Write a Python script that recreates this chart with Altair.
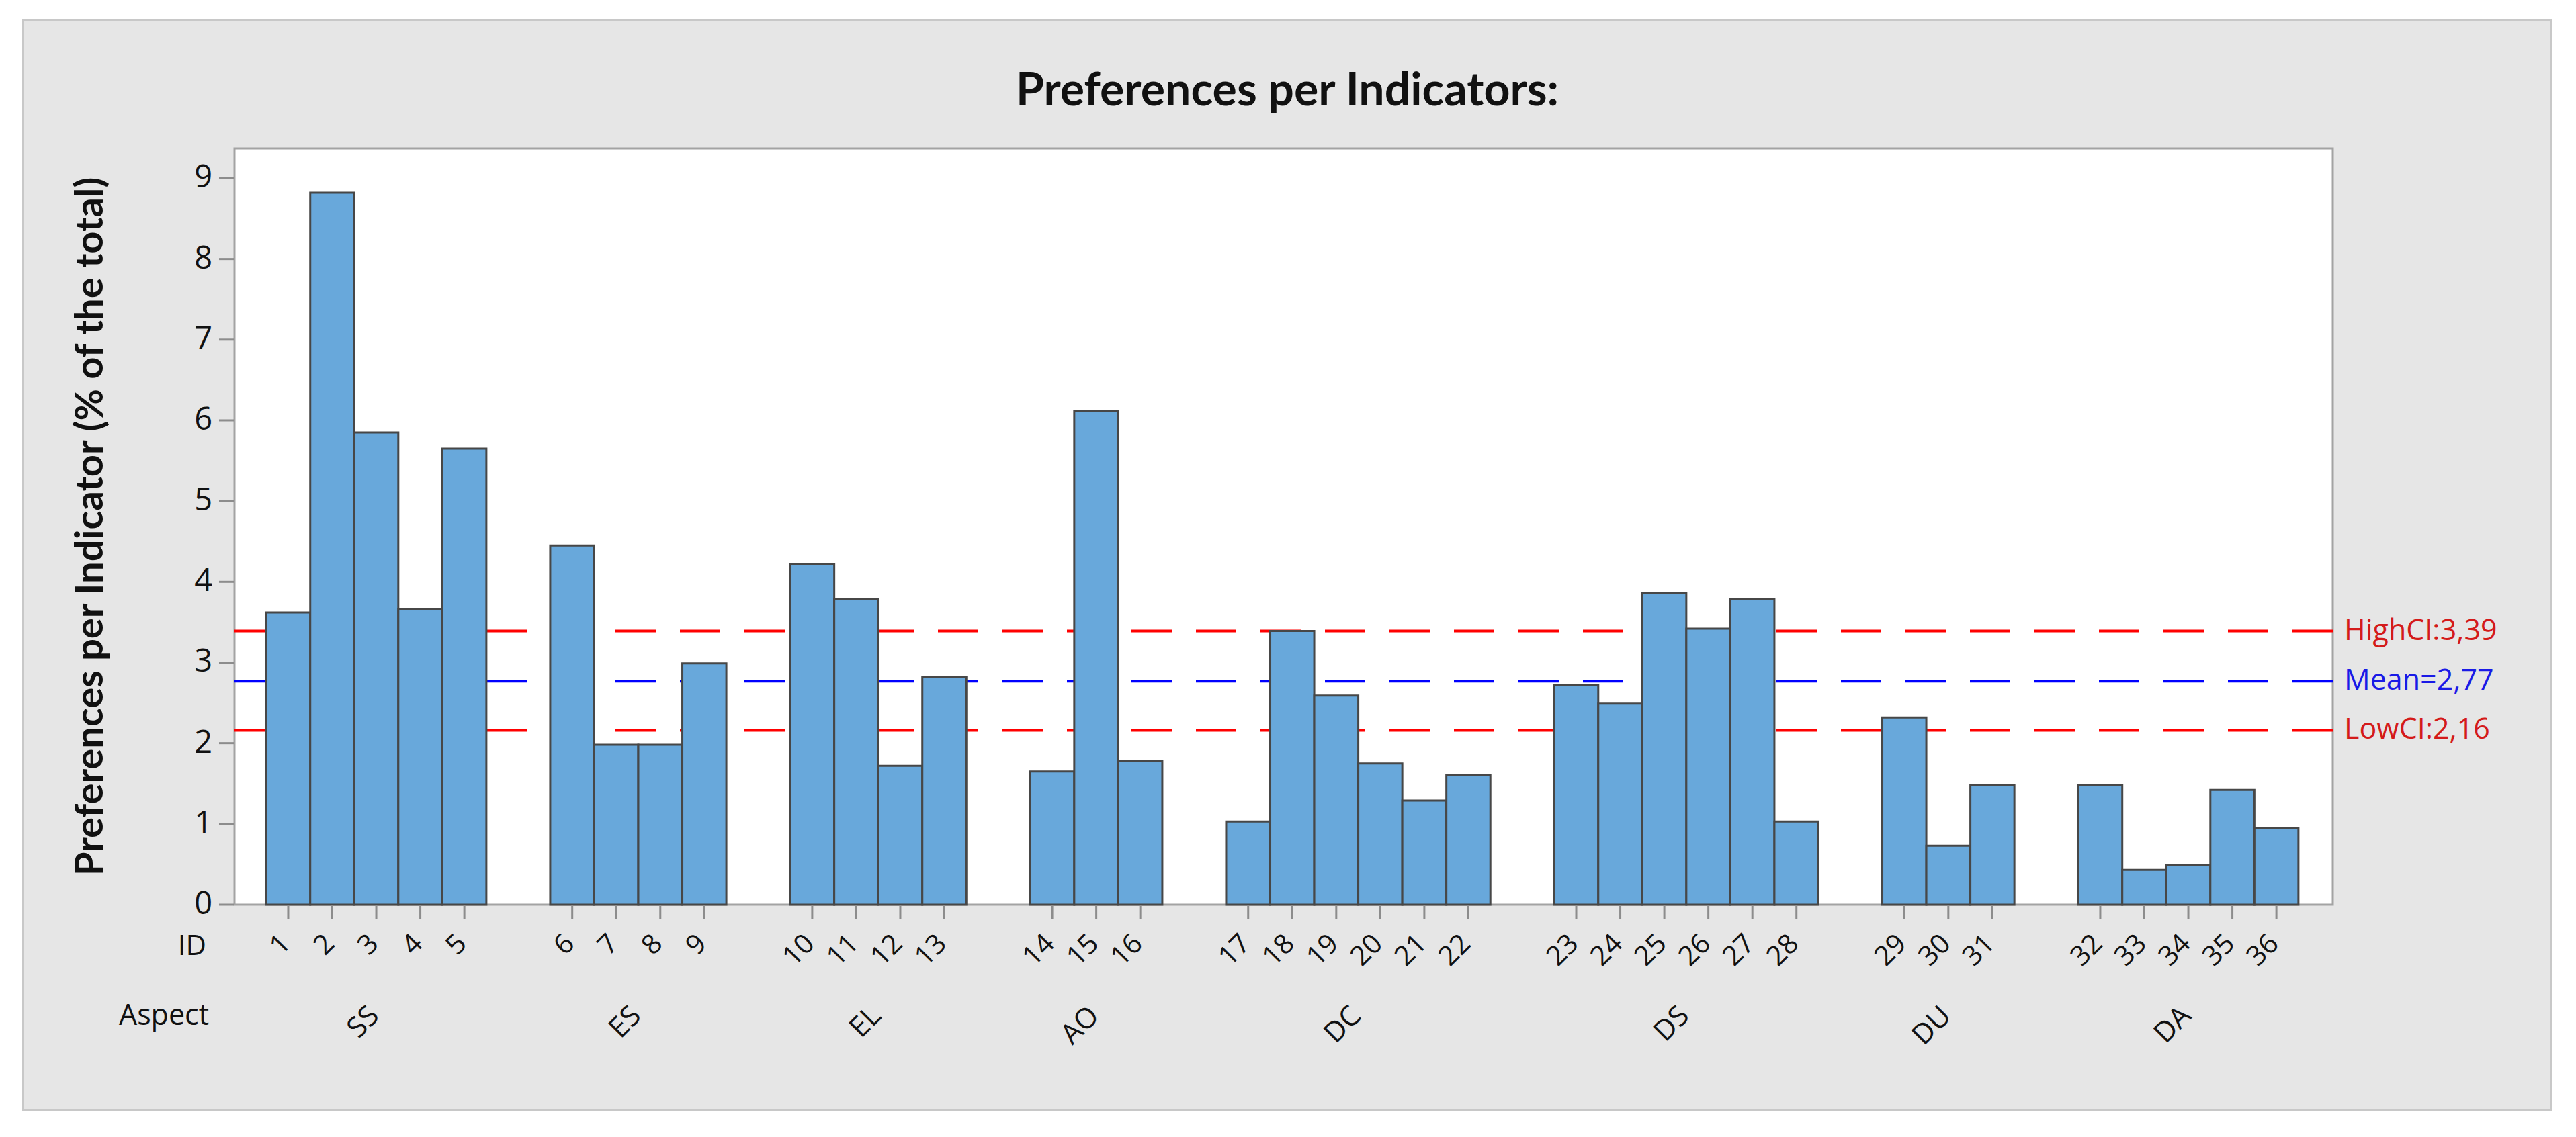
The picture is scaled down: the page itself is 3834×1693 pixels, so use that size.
import altair as alt
import pandas as pd

# ---------------- data ----------------
ids = list(range(1, 37))
values = [3.62, 8.82, 5.85, 3.66, 5.65,
          4.45, 1.98, 1.98, 2.99,
          4.22, 3.79, 1.72, 2.82,
          1.65, 6.12, 1.78,
          1.03, 3.39, 2.59, 1.75, 1.29, 1.61,
          2.72, 2.49, 3.86, 3.42, 3.79, 1.03,
          2.32, 0.73, 1.48,
          1.48, 0.43, 0.49, 1.42, 0.95]
aspects = ["SS", "ES", "EL", "AO", "DC", "DS", "DU", "DA"]
group_sizes = [5, 4, 4, 3, 6, 6, 3, 5]
y_ticks = [0, 1, 2, 3, 4, 5, 6, 7, 8, 9]
ref_values = [3.39, 2.77, 2.16]
ref_labels = ["HighCI:3,39", "Mean=2,77", "LowCI:2,16"]
ref_colors = ["#ff0000", "#0000ff", "#ff0000"]
ref_text_colors = ["#d41a1a", "#1a1ae6", "#d41a1a"]
title_text = "Preferences per Indicators:"
y_title = "Preferences per Indicator (% of the total)"

# ---------------- layout (pixels) ----------------
W, H = 3123, 1126
GAP = 1.45  # gap between aspect groups, in bar widths
XMIN = -0.72
XMAX = 36 + 7 * GAP + 0.78
YMAX = 9.37
TICK_COLOR = "#8c8c8c"
TXT = "#111111"

rows = []
k = 0
gcenters = []
for g, (asp, n) in enumerate(zip(aspects, group_sizes)):
    start = k + g * GAP
    for j in range(n):
        x0 = k + g * GAP
        rows.append({"id": str(ids[k]), "value": values[k], "aspect": asp,
                     "x0": x0, "x1": x0 + 1, "xc": x0 + 0.5})
        k += 1
    gcenters.append({"aspect": asp, "xc": (start + (k + g * GAP)) / 2})
bars_df = pd.DataFrame(rows)
groups_df = pd.DataFrame(gcenters)
ref_df = pd.DataFrame({"ref": ref_values, "label": ref_labels,
                       "col": ref_colors, "tcol": ref_text_colors})
yt_df = pd.DataFrame({"v": y_ticks, "lab": [str(v) for v in y_ticks]})
one = pd.DataFrame({"t": [title_text]})
ytitle_df = pd.DataFrame({"t": [y_title]})
hdr_df = pd.DataFrame({"t": ["ID"]})
asp_hdr_df = pd.DataFrame({"t": ["Aspect"]})

xs = alt.Scale(domain=[XMIN, XMAX], nice=False, zero=False)
ys = alt.Scale(domain=[0, YMAX], nice=False, zero=False)

# white outer margin (thick white stroke outside the gray box) and box border
margin = alt.Chart(one).mark_rect(fill="transparent", stroke="white", strokeWidth=80).encode(
    x=alt.value(-355), x2=alt.value(3488), y=alt.value(-231), y2=alt.value(1472))
box = alt.Chart(one).mark_rect(fill="transparent", stroke="#c8c8c8", strokeWidth=4).encode(
    x=alt.value(-315), x2=alt.value(3448), y=alt.value(-191), y2=alt.value(1432))

rules = alt.Chart(ref_df).mark_rule(strokeWidth=4, strokeDash=[60, 36]).encode(
    y=alt.Y("ref:Q", scale=ys, axis=None),
    color=alt.Color("col:N", scale=None))

bars = alt.Chart(bars_df).mark_rect(fill="#68a8db", stroke="#474747", strokeWidth=3).encode(
    x=alt.X("x0:Q", scale=xs, axis=None),
    x2="x1:Q",
    y=alt.Y("value:Q", scale=ys, axis=None),
    y2=alt.datum(0))

# y axis: ticks, labels, title
y_tick_marks = alt.Chart(yt_df).mark_rule(color=TICK_COLOR, strokeWidth=3).encode(
    x=alt.value(-23), x2=alt.value(0),
    y=alt.Y("v:Q", scale=ys, axis=None))
y_labels = alt.Chart(yt_df).mark_text(align="right", baseline="middle", font="Open Sans",
                                      fontSize=47, color=TXT).encode(
    x=alt.value(-33),
    y=alt.Y("v:Q", scale=ys, axis=None),
    text="lab:N")
y_title_mark = alt.Chart(ytitle_df).mark_text(angle=270, align="center", baseline="alphabetic",
                                              font="Lato", fontWeight="bold", fontSize=58,
                                              color=TXT).encode(
    x=alt.value(-196), y=alt.value(H / 2), text="t:N")

# x axis: ticks at bar centres, rotated ID labels, aspect labels
x_tick_marks = alt.Chart(bars_df).mark_rule(color=TICK_COLOR, strokeWidth=3).encode(
    x=alt.X("xc:Q", scale=xs, axis=None),
    y=alt.value(H), y2=alt.value(H + 22))

ref_text = alt.Chart(ref_df).mark_text(align="left", baseline="middle", font="Open Sans",
                                       fontSize=43).encode(
    x=alt.value(W + 17),
    y=alt.Y("ref:Q", scale=ys, axis=None),
    text="label:N",
    color=alt.Color("tcol:N", scale=None))

id_text = alt.Chart(bars_df).mark_text(angle=315, align="right", baseline="middle",
                                       font="Open Sans", fontSize=41, color=TXT,
                                       dx=-4).encode(
    x=alt.X("xc:Q", scale=xs, axis=None),
    y=alt.value(1175),
    text="id:N")

asp_text = alt.Chart(groups_df).mark_text(angle=315, align="right", baseline="middle",
                                          font="Open Sans", fontSize=42, color=TXT,
                                          dx=-4).encode(
    x=alt.X("xc:Q", scale=xs, axis=None),
    y=alt.value(1282),
    text="aspect:N")

id_hdr = alt.Chart(hdr_df).mark_text(align="right", baseline="middle", font="Open Sans",
                                     fontSize=42, color=TXT).encode(
    x=alt.value(-42), y=alt.value(1188), text="t:N")

asp_hdr = alt.Chart(asp_hdr_df).mark_text(align="right", baseline="alphabetic",
                                          font="Open Sans", fontSize=43,
                                          color=TXT).encode(
    x=alt.value(-38), y=alt.value(1305), text="t:N")

title = alt.Chart(one).mark_text(align="center", baseline="alphabetic", font="Lato",
                                 fontWeight="bold", fontSize=68, color=TXT).encode(
    x=alt.value(1567), y=alt.value(-64), text="t:N")

chart = alt.layer(rules, bars, y_tick_marks, y_labels, y_title_mark, x_tick_marks,
                  ref_text, id_text, asp_text, id_hdr, asp_hdr, title,
                  margin, box).properties(
    width=W, height=H,
    autosize=alt.AutoSizeParams(type="none"),
    padding={"left": 341, "top": 213, "right": 354, "bottom": 338},
    background="#e6e6e6",
).configure_view(fill="white", stroke="#a3a3a3", strokeWidth=3)

chart.save("out.html", embed_options={"renderer": "svg", "actions": False})
